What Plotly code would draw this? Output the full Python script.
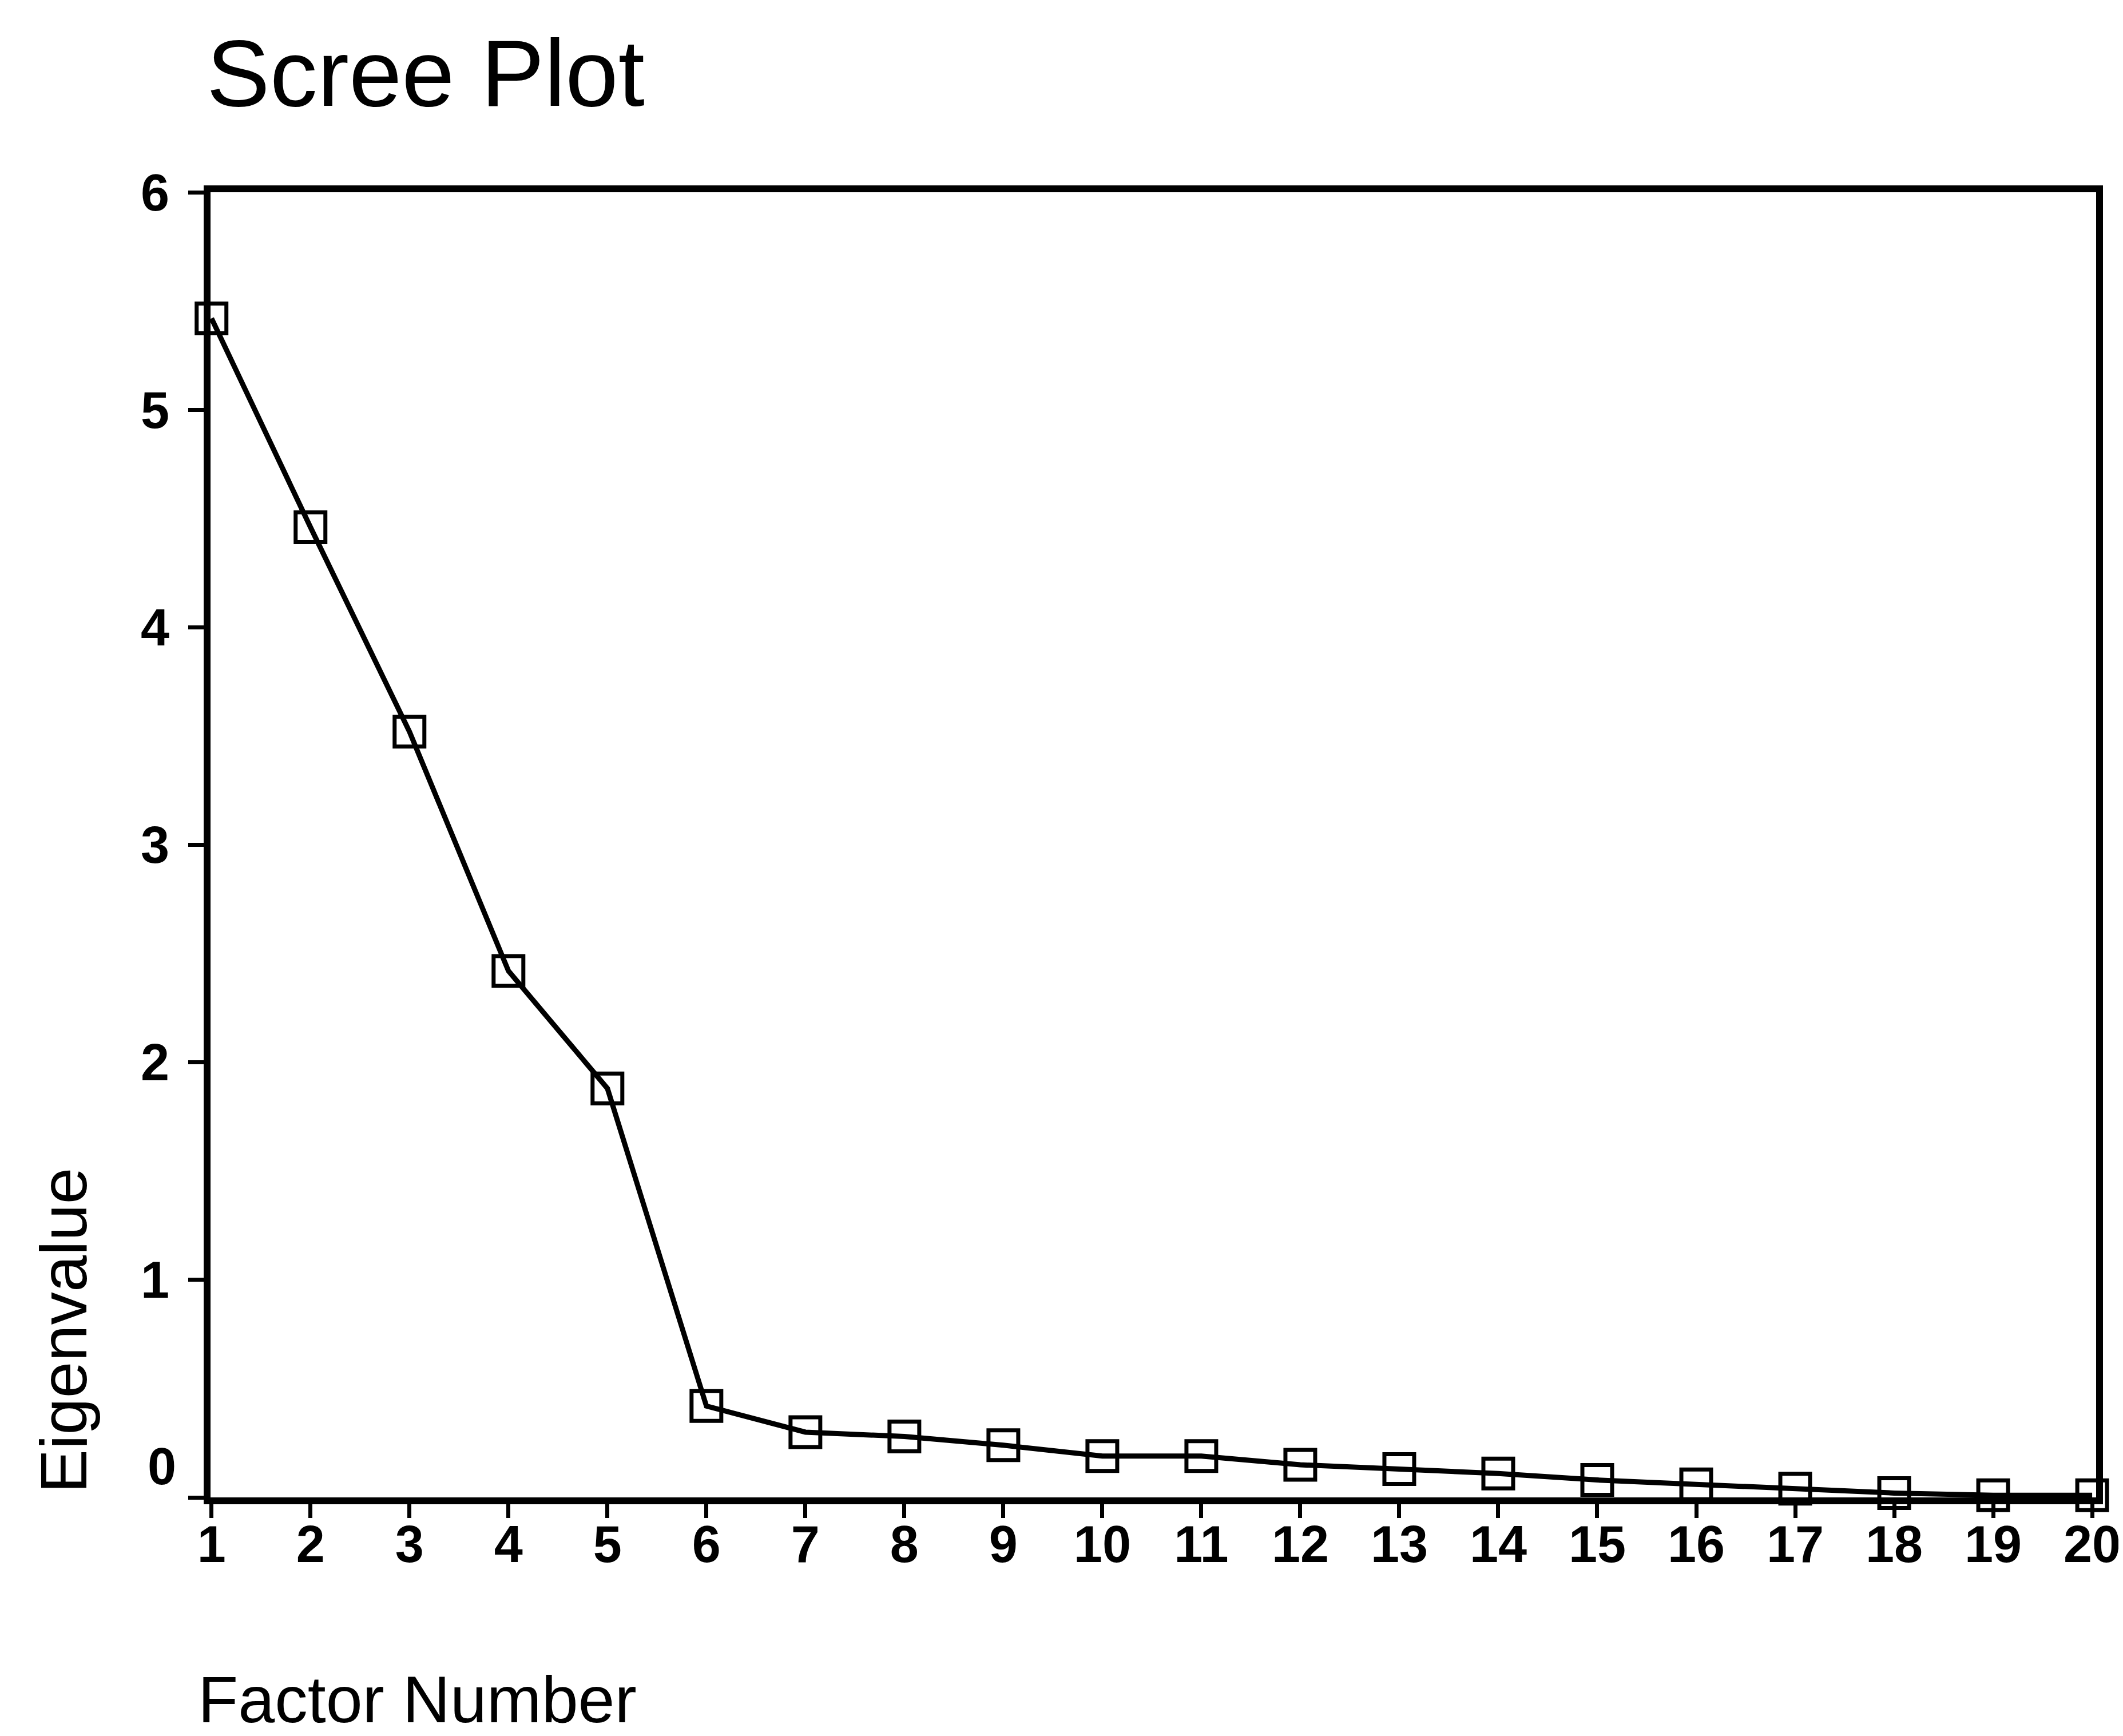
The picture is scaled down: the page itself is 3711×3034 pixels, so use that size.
import plotly.graph_objects as go

factor_number = list(range(1, 21))
eigenvalue = [5.42, 4.46, 3.52, 2.42, 1.88, 0.42, 0.30, 0.28, 0.24, 0.19,
              0.19, 0.15, 0.13, 0.11, 0.08, 0.06, 0.04, 0.02, 0.01, 0.01]
y_ticks = [0, 1, 2, 3, 4, 5, 6]
y_ticktext = ["", "1", "2", "3", "4", "5", "6"]

W, H = 3711, 3034
L, R, T, B = 360, 43, 328, 425
PW, PH = W - L - R, H - T - B
FONT = "Liberation Sans, Arial, sans-serif"


def px_x(p):
    return (p - L) / PW


def px_y(p):
    return (H - B - p) / PH


fig = go.Figure()
fig.add_trace(go.Scatter(
    x=factor_number, y=eigenvalue, mode="lines+markers",
    line=dict(color="black", width=9),
    marker=dict(symbol="square-open", size=52, color="black",
                line=dict(color="black", width=7)),
    cliponaxis=False, showlegend=False,
))

tick_font = dict(family=FONT, size=90, color="black", weight="bold")

fig.update_layout(
    width=W, height=H,
    paper_bgcolor="white", plot_bgcolor="white",
    margin=dict(l=L, r=R, t=T, b=B),
    font=dict(family=FONT, color="black"),
    xaxis=dict(range=[0.99, 20.04], tickvals=factor_number,
               showgrid=False, zeroline=False,
               showline=True, linecolor="black", linewidth=12, mirror=True,
               ticks="outside", ticklen=24, tickwidth=7, tickcolor="black",
               tickfont=tick_font, ticklabelstandoff=-31,
               ticklabeloverflow="allow"),
    yaxis=dict(range=[0, 6], tickvals=y_ticks, ticktext=y_ticktext,
               showgrid=False, zeroline=False,
               showline=True, linecolor="black", linewidth=12, mirror=True,
               ticks="outside", ticklen=27, tickwidth=7, tickcolor="black",
               tickfont=tick_font, ticklabelstandoff=15),
    annotations=[
        dict(text="Scree Plot", xref="paper", yref="paper",
             x=px_x(351), y=px_y(214),
             xanchor="left", yanchor="bottom", showarrow=False,
             font=dict(family=FONT, size=166, color="black")),
        dict(text="Factor Number", xref="paper", yref="paper",
             x=px_x(336), y=px_y(3028),
             xanchor="left", yanchor="bottom", showarrow=False,
             font=dict(family=FONT, size=115, color="black")),
        dict(text="Eigenvalue", xref="paper", yref="paper",
             x=px_x(35), y=px_y(2604),
             xanchor="left", yanchor="bottom", textangle=-90, showarrow=False,
             font=dict(family=FONT, size=115, color="black")),
        dict(text="0", xref="paper", yref="y",
             x=px_x(302), y=y_ticks[0], yshift=54,
             xanchor="right", yanchor="middle", showarrow=False,
             font=tick_font),
    ],
)

fig.write_html("out.html")
